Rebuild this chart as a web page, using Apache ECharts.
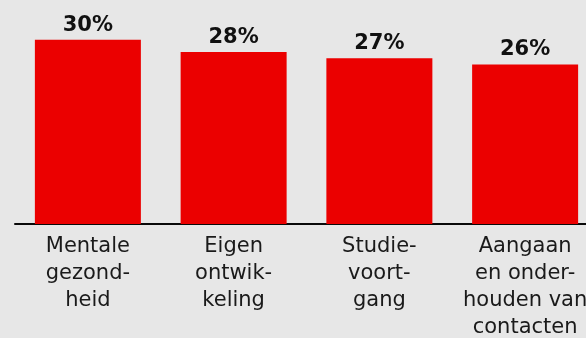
<!DOCTYPE html>
<html><head><meta charset="utf-8">
<script src="https://cdn.jsdelivr.net/npm/echarts@6/dist/echarts.min.js"></script>
<style>html,body{margin:0;padding:0;background:#e7e7e7;}#c{width:586px;height:338px;}</style>
</head><body><div id="c"></div>
<script>
const categories = ["Mentale\ngezond-\nheid", "Eigen\nontwik-\nkeling", "Studie-\nvoort-\ngang", "Aangaan\nen onder-\nhouden van\ncontacten"];
const values = [30, 28, 27, 26];
const chart = echarts.init(document.getElementById('c'), null, {renderer: 'canvas'});
chart.setOption({
  backgroundColor: '#e7e7e7',
  animation: false,
  grid: {left: 15, top: 3, width: 583, height: 221, containLabel: false, outerBoundsMode: 'none'},
  xAxis: {
    type: 'category', data: categories,
    axisLine: {lineStyle: {color: '#0a0a0a', width: 2}},
    axisTick: {show: false},
    axisLabel: {interval: 0, margin: 9, color: '#1a1a1a', fontFamily: 'DejaVu Sans', fontSize: 21, lineHeight: 27, align: 'center', hideOverlap: false}
  },
  yAxis: {type: 'value', min: 0, max: 36, show: false, splitLine: {show: false}},
  series: [{
    type: 'bar', data: values, barWidth: 106,
    itemStyle: {color: '#eb0000'},
    label: {show: true, position: 'top', distance: 4, formatter: '{c}%', color: '#111', fontFamily: 'DejaVu Sans', fontWeight: 'bold', fontSize: 21}
  }]
});
</script></body></html>
